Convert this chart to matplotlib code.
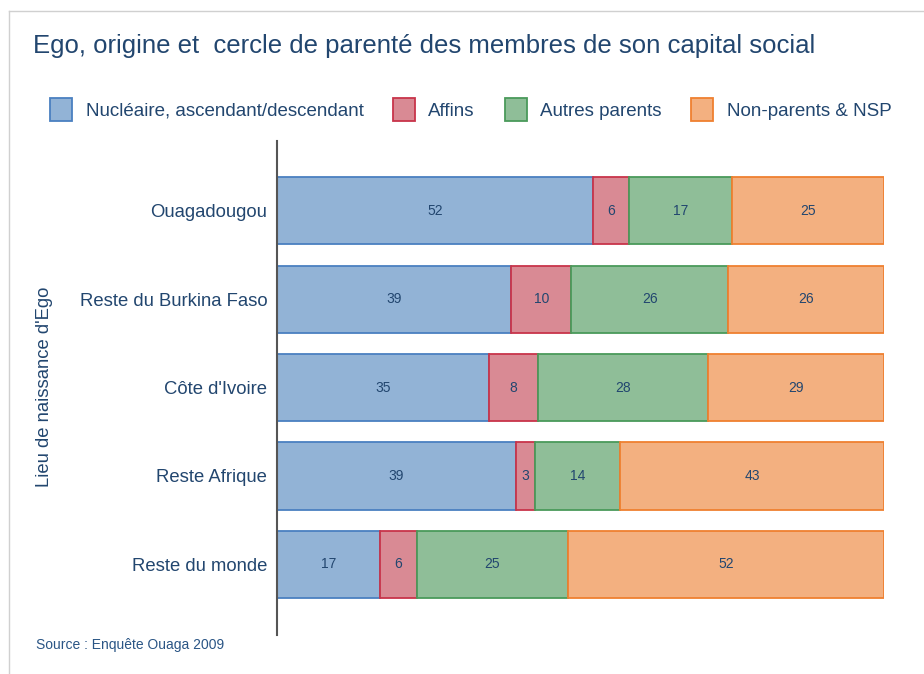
import matplotlib
matplotlib.use("Agg")
import matplotlib.pyplot as plt
import numpy as np
from matplotlib.patches import Rectangle
from matplotlib.lines import Line2D

plt.rcParams['font.family'] = ['Liberation Sans', 'DejaVu Sans']

categories = ["Ouagadougou", "Reste du Burkina Faso", "Côte d'Ivoire",
              "Reste Afrique", "Reste du monde"]
series_names = ["Nucléaire, ascendant/descendant", "Affins",
                "Autres parents", "Non-parents & NSP"]
nucleaire = [52, 39, 35, 39, 17]
affins = [6, 10, 8, 3, 6]
autres = [17, 26, 28, 14, 25]
non_parents = [25, 26, 29, 43, 52]

fills = ["#92b3d6", "#d98a94", "#8fbe98", "#f3b080"]
edges = ["#4a80c0", "#c8344a", "#4a9a5a", "#ef8030"]
txt = "#22466f"

values = np.array([nucleaire, affins, autres, non_parents], dtype=float)
shares = values / values.sum(axis=0) * 100  # each row stretched to 100 %

fig = plt.figure(figsize=(9.24, 6.74), dpi=100)
W, H = 924, 674

def fx(px):
    return px / W

def fy(py):
    return 1 - py / H

ax = fig.add_axes([fx(277), fy(635), fx(884) - fx(277), fy(141) - fy(635)])
y = np.arange(len(categories))
left = np.zeros(len(categories))
for k in range(4):
    ax.barh(y, shares[k], left=left, height=0.76, color=fills[k],
            edgecolor=edges[k], linewidth=1.3)
    for i in range(len(categories)):
        ax.text(left[i] + shares[k][i] / 2, y[i], "%d" % values[k][i],
                ha="center", va="center", fontsize=10, color=txt)
    left += shares[k]

ax.set_xlim(0, 100)
ax.set_ylim(4.8, -0.79)
ax.set_yticks(y)
ax.set_yticklabels(categories, fontsize=13.3, color=txt)
ax.tick_params(axis="y", length=0, pad=7)
ax.set_xticks([])
for s in ["top", "right", "bottom"]:
    ax.spines[s].set_visible(False)
ax.spines["left"].set_color("#555555")
ax.spines["left"].set_linewidth(1.5)

fig.text(fx(45), fy(387), "Lieu de naissance d'Ego", rotation=90,
         ha="center", va="center", fontsize=13.3, color=txt)

fig.text(fx(33), fy(46), "Ego, origine et  cercle de parenté des membres de son capital social",
         ha="left", va="center", fontsize=18.5, color=txt)

# legend drawn by hand along one row
box_x = [50, 393, 505, 691]
lab_x = [86, 428, 540, 727]
for k in range(4):
    fig.patches.append(Rectangle((fx(box_x[k]), fy(121)), fx(22), 23 / H,
                                 transform=fig.transFigure, facecolor=fills[k],
                                 edgecolor=edges[k], linewidth=1.3))
    fig.text(fx(lab_x[k]), fy(111), series_names[k], ha="left", va="center",
             fontsize=13.5, color=txt)

fig.text(fx(36), fy(645), "Source : Enquête Ouaga 2009", ha="left", va="center",
         fontsize=10, color="#2a5585")

# thin frame round the panel
fig.lines.append(Line2D([fx(9), fx(9)], [0, fy(11)], transform=fig.transFigure,
                        color="#d0d0d0", linewidth=1))
fig.lines.append(Line2D([fx(9), 1], [fy(11), fy(11)], transform=fig.transFigure,
                        color="#d0d0d0", linewidth=1))

fig.savefig("out.png", dpi=100)
